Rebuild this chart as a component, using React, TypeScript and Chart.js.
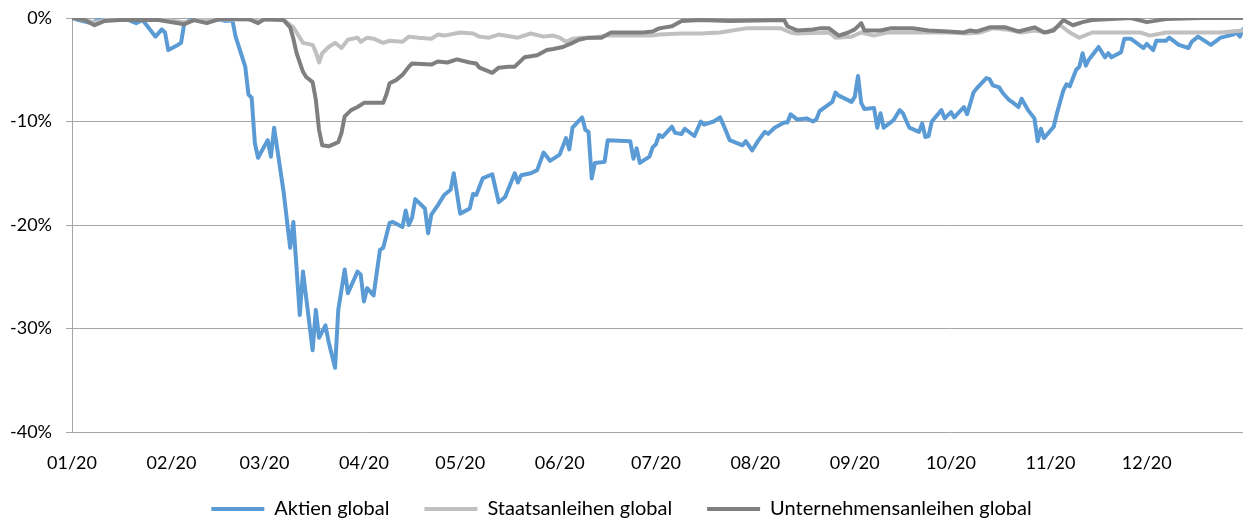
import { useEffect, useRef } from "react"
import { Chart, registerables } from "chart.js"

Chart.register(...registerables)

// Tag im Jahr 2020 (0 = 1. Januar) und Drawdown in %
const monatsStart = [0, 31, 60, 91, 121, 152, 182, 213, 244, 274, 305, 335]
const monatsLabels = ["01/20", "02/20", "03/20", "04/20", "05/20", "06/20", "07/20", "08/20", "09/20", "10/20", "11/20", "12/20"]
const yTicks = [0, -10, -20, -30, -40]

const aktien: [number, number][] = [
  [0, 0], [2, -0.2], [6, -0.5], [8, -0.2], [12, -0.1], [16, 0], [20, -0.5], [22, -0.2], [24, -1.0], [26, -1.8],
  [28, -1.1], [29, -1.4], [30, -3.1], [33, -2.6], [34, -2.4], [35, -0.5], [37, -0.2], [40, 0], [45, -0.1], [48, -0.3],
  [50, -0.2], [51, -1.8], [54, -4.7], [55, -7.4], [56, -7.7], [57, -12.1], [58, -13.5], [61, -11.8], [62, -13.4], [63, -10.6],
  [66, -16.9], [68, -22.2], [69, -19.7], [71, -28.7], [72, -24.5], [75, -32.1], [76, -28.2], [77, -30.9], [79, -29.7], [80, -31.3],
  [82, -33.8], [83, -28.2], [85, -24.3], [86, -26.6], [89, -24.5], [90, -24.8], [91, -27.4], [92, -26.1], [94, -26.8], [96, -22.4],
  [97, -22.2], [99, -19.8], [100, -19.7], [103, -20.2], [104, -18.6], [105, -20.0], [106, -19.3], [107, -17.5], [110, -18.4], [111, -20.8],
  [112, -19.0], [114, -18.1], [116, -17.1], [118, -16.6], [119, -15.0], [121, -18.9], [124, -18.4], [125, -17.0], [126, -17.1], [128, -15.5],
  [131, -15.1], [133, -17.8], [135, -17.3], [138, -15.0], [139, -15.9], [140, -15.2], [143, -15.0], [145, -14.7], [147, -13.0], [149, -13.8],
  [152, -13.2], [154, -11.6], [155, -12.7], [156, -10.6], [159, -9.6], [160, -10.8], [161, -11.0], [162, -15.5], [163, -14.0], [166, -13.9],
  [167, -11.8], [174, -11.9], [175, -13.6], [176, -12.6], [177, -14.0], [180, -13.4], [181, -12.5], [182, -12.2], [183, -11.3], [184, -11.5],
  [187, -10.5], [188, -11.1], [190, -11.2], [191, -10.7], [194, -11.4], [196, -10.0], [197, -10.3], [200, -10.0], [202, -9.6], [203, -10.3],
  [205, -11.8], [209, -12.3], [210, -11.9], [212, -12.8], [214, -11.8], [216, -11.0], [217, -11.2], [219, -10.6], [222, -10.1], [223, -10.1],
  [224, -9.3], [226, -9.8], [229, -9.7], [231, -10.0], [232, -9.8], [233, -9.0], [237, -8.1], [238, -7.2], [239, -7.5], [243, -8.1],
  [244, -7.6], [245, -5.6], [246, -8.2], [247, -8.8], [250, -8.7], [251, -10.6], [252, -9.2], [253, -10.6], [256, -9.9], [258, -8.9],
  [259, -9.2], [261, -10.6], [264, -11.0], [265, -10.2], [266, -11.5], [267, -11.4], [268, -10.0], [271, -8.9], [272, -9.7], [274, -9.1],
  [275, -9.6], [278, -8.6], [279, -9.3], [281, -7.2], [282, -6.8], [285, -5.8], [286, -5.9], [287, -6.5], [289, -6.7], [290, -7.2],
  [292, -7.9], [293, -8.1], [295, -8.6], [296, -7.8], [298, -8.9], [300, -9.7], [301, -11.9], [302, -10.7], [303, -11.6], [306, -10.5],
  [307, -9.2], [309, -7.0], [310, -6.4], [311, -6.6], [313, -5.0], [314, -4.7], [315, -3.4], [316, -4.6], [317, -4.0], [320, -2.8],
  [322, -3.8], [323, -3.4], [324, -3.8], [327, -3.3], [328, -2.0], [330, -2.0], [334, -2.9], [335, -2.5], [337, -3.1], [338, -2.2],
  [341, -2.2], [342, -1.9], [345, -2.6], [348, -2.9], [349, -2.3], [351, -1.8], [355, -2.6], [358, -1.9], [362, -1.6], [363, -1.4],
  [364, -1.8], [365, -1.1],
]

const staatsanleihen: [number, number][] = [
  [0, 0], [7, -0.4], [12, -0.1], [27, -0.1], [35, -0.4], [40, -0.1], [58, -0.2], [66, -0.2], [69, -0.9], [71, -1.9],
  [72, -2.4], [75, -2.6], [76, -3.3], [77, -4.3], [78, -3.4], [80, -2.8], [82, -2.4], [84, -2.9], [86, -2.1], [89, -1.9],
  [90, -2.3], [92, -1.9], [94, -2.0], [97, -2.4], [99, -2.2], [103, -2.3], [105, -1.8], [108, -1.9], [112, -2.0], [114, -1.6],
  [116, -1.7], [121, -1.4], [125, -1.5], [127, -1.8], [130, -1.9], [133, -1.6], [139, -1.9], [143, -1.5], [147, -1.8], [150, -1.7],
  [152, -1.9], [154, -2.3], [156, -2.0], [159, -1.9], [162, -1.9], [167, -1.7], [171, -1.7], [181, -1.7], [183, -1.6], [190, -1.5],
  [196, -1.5], [202, -1.4], [210, -1.0], [217, -1.0], [221, -1.0], [224, -1.4], [226, -1.5], [236, -1.4], [238, -1.9], [243, -1.8],
  [246, -1.4], [250, -1.7], [254, -1.4], [262, -1.4], [273, -1.4], [279, -1.5], [283, -1.4], [287, -1.0], [291, -1.1], [296, -1.4],
  [300, -1.2], [304, -1.4], [308, -0.7], [311, -1.4], [314, -1.9], [318, -1.4], [324, -1.4], [333, -1.4], [336, -1.7], [341, -1.4],
  [349, -1.4], [358, -1.4], [365, -1.2],
]

const unternehmensanleihen: [number, number][] = [
  [0, 0], [4, -0.2], [7, -0.7], [10, -0.3], [15, -0.2], [27, -0.2], [35, -0.6], [38, -0.2], [42, -0.5], [46, -0.1],
  [55, -0.1], [58, -0.5], [60, -0.1], [66, -0.2], [68, -0.9], [69, -2.0], [70, -3.4], [72, -5.2], [73, -5.7], [75, -6.2],
  [76, -7.9], [77, -10.8], [78, -12.3], [80, -12.4], [83, -12.0], [84, -11.1], [85, -9.5], [87, -8.9], [89, -8.6], [91, -8.2],
  [97, -8.2], [98, -7.4], [99, -6.3], [101, -6.0], [103, -5.5], [105, -4.7], [106, -4.4], [112, -4.5], [114, -4.2], [117, -4.3],
  [120, -4.0], [124, -4.3], [126, -4.4], [127, -4.8], [131, -5.3], [133, -4.8], [136, -4.7], [138, -4.7], [141, -3.8], [143, -3.7],
  [145, -3.6], [148, -3.1], [150, -3.0], [153, -2.8], [156, -2.4], [158, -2.1], [161, -1.9], [165, -1.9], [168, -1.4], [171, -1.4],
  [175, -1.4], [178, -1.4], [181, -1.3], [183, -1.0], [187, -0.8], [190, -0.3], [196, -0.2], [205, -0.3], [222, -0.2], [223, -0.8],
  [226, -1.2], [231, -1.1], [233, -1.0], [236, -1.0], [239, -1.7], [242, -1.4], [244, -1.1], [246, -0.5], [247, -1.2], [252, -1.2],
  [255, -1.0], [262, -1.0], [267, -1.2], [273, -1.3], [278, -1.4], [280, -1.2], [282, -1.3], [286, -0.9], [291, -0.9], [295, -1.3],
  [300, -0.9], [303, -1.4], [306, -1.2], [309, -0.2], [312, -0.7], [315, -0.4], [318, -0.2], [324, -0.1], [330, 0], [335, -0.4],
  [337, -0.3], [341, -0.1], [352, 0], [365, 0],
]

const toPoints = (rows: [number, number][]) => rows.map(([x, y]) => ({ x, y }))

export default function App() {
  const chartRef = useRef<HTMLCanvasElement>(null)
  const chartInstance = useRef<Chart | null>(null)

  useEffect(() => {
    if (!chartRef.current) return
    if (chartInstance.current) chartInstance.current.destroy()

    Chart.defaults.font.family = "Lato"
    Chart.defaults.font.size = 18
    Chart.defaults.color = "#000"

    const lineStyle = {
      borderWidth: 4,
      pointRadius: 0,
      tension: 0,
      fill: false,
      borderJoinStyle: "round" as const,
      borderCapStyle: "round" as const,
    }

    chartInstance.current = new Chart(chartRef.current, {
      type: "line",
      data: {
        datasets: [
          {
            label: "Aktien global",
            data: toPoints(aktien),
            borderColor: "#5B9BD5",
            backgroundColor: "#5B9BD5",
            order: 3,
            ...lineStyle,
          },
          {
            label: "Staatsanleihen global",
            data: toPoints(staatsanleihen),
            borderColor: "#C0C0C0",
            backgroundColor: "#C0C0C0",
            order: 2,
            ...lineStyle,
          },
          {
            label: "Unternehmensanleihen global",
            data: toPoints(unternehmensanleihen),
            borderColor: "#7F7F7F",
            backgroundColor: "#7F7F7F",
            order: 1,
            ...lineStyle,
          },
        ],
      },
      options: {
        animation: false,
        responsive: true,
        maintainAspectRatio: false,
        layout: { padding: { top: 18, right: 0, left: 0, bottom: 0 } },
        scales: {
          x: {
            type: "linear",
            min: 0,
            max: 365,
            grid: { display: false, drawTicks: false },
            border: { display: false },
            afterBuildTicks: (scale) => {
              scale.ticks = monatsStart.map((value) => ({ value }))
            },
            afterFit: (scale) => {
              scale.height = 32
              // Beschriftung darf unter die (niedrige) Achsenbox ragen
              ;(scale as any)._computeLabelArea = () => undefined
            },
            ticks: {
              padding: 20,
              maxRotation: 0,
              autoSkip: false,
              callback: (_value, index) => monatsLabels[index],
            },
          },
          y: {
            min: -40,
            max: 0,
            afterBuildTicks: (scale) => {
              scale.ticks = yTicks.map((value) => ({ value }))
            },
            afterFit: (scale) => {
              scale.width = 72
              scale.paddingTop = 0
              scale.paddingBottom = 0
            },
            grid: { color: "#A6A6A6", lineWidth: 1, drawTicks: true, tickLength: 6 },
            border: { display: true, color: "#A6A6A6", width: 1 },
            ticks: {
              padding: 14,
              callback: (value) => `${value}%`,
            },
          },
        },
        plugins: {
          legend: {
            position: "bottom",
            align: "center",
            labels: {
              boxWidth: 53,
              boxHeight: 4,
              padding: 35,
              font: { size: 20 },
              generateLabels: (chart) =>
                Chart.defaults.plugins.legend.labels
                  .generateLabels(chart)
                  .map((item) => ({ ...item, lineWidth: 0 }))
                  .sort((a, b) => (a.datasetIndex ?? 0) - (b.datasetIndex ?? 0)),
            },
          },
          tooltip: { enabled: false },
        },
      },
    })

    return () => {
      if (chartInstance.current) {
        chartInstance.current.destroy()
        chartInstance.current = null
      }
    }
  }, [])

  return (
    <div style={{ position: "fixed", left: 0, top: 0, width: 1243, height: 523, overflow: "hidden", background: "#fff" }}>
      <div style={{ position: "relative", width: 1243, height: 529 }}>
        <canvas ref={chartRef}></canvas>
      </div>
    </div>
  )
}
